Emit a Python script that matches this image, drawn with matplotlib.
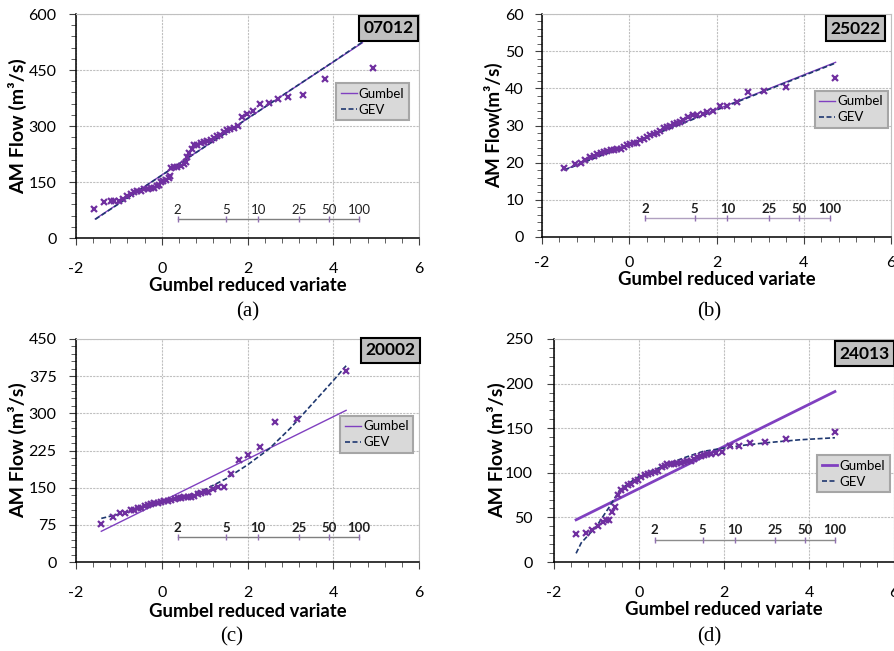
import matplotlib
matplotlib.use('Agg')
import matplotlib.pyplot as plt
from matplotlib.ticker import MultipleLocator, AutoMinorLocator

plt.rcParams['font.family'] = ['Lato', 'DejaVu Sans']
plt.rcParams['axes.unicode_minus'] = False

# ---------------- data ----------------
stations = ['07012', '25022', '20002', '24013']
captions = ['(a)', '(b)', '(c)', '(d)']
ylabels = ['AM Flow (m³/s)', 'AM Flow(m³/s)', 'AM Flow (m³/s)', 'AM Flow (m³/s)']
xlabel = 'Gumbel reduced variate'
y_max = [600, 60, 450, 250]
y_step = [150, 10, 75, 50]

return_periods = ['2', '5', '10', '25', '50', '100']
rp_x = [0.37, 1.50, 2.25, 3.20, 3.90, 4.60]
rp_level = [50, 5, 50, 25]

# (a) 07012
a_obs_x = [-1.57, -1.34, -1.19, -1.11, -0.99, -0.91, -0.80, -0.72, -0.64, -0.57,
           -0.49, -0.41, -0.33, -0.26, -0.18, -0.10, -0.06, -0.02, 0.03, 0.09,
           0.16, 0.19, 0.21, 0.29, 0.36, 0.44, 0.52, 0.56, 0.60, 0.64,
           0.70, 0.75, 0.83, 0.91, 0.98, 1.06, 1.14, 1.22, 1.29, 1.37,
           1.45, 1.53, 1.60, 1.68, 1.78, 1.88, 1.99, 2.12, 2.29, 2.49,
           2.71, 2.95, 3.29, 3.81, 4.93]
a_obs_y = [79, 97, 99, 98, 99, 104, 112, 119, 123, 126,
           127, 130, 132, 134, 134, 139, 141, 150, 153, 156,
           160, 167, 187, 189, 191, 194, 198, 204, 217, 228,
           239, 248, 250, 254, 256, 261, 263, 267, 272, 276,
           283, 289, 291, 295, 300, 323, 333, 339, 359, 362,
           372, 379, 383, 427, 456]
a_gum_x = [-1.55, 4.68]
a_gum_y = [51, 523]
a_gev_x = [-1.55, 0.0, 2.0, 4.0, 4.68]
a_gev_y = [50, 168, 320, 472, 525]

# (b) 25022
b_obs_x = [-1.49, -1.25, -1.11, -1.01, -0.89, -0.80, -0.73, -0.65, -0.57, -0.50,
           -0.42, -0.34, -0.27, -0.19, -0.11, -0.05, 0.02, 0.10, 0.18, 0.25,
           0.33, 0.40, 0.48, 0.56, 0.63, 0.71, 0.79, 0.86, 0.94, 1.02,
           1.09, 1.17, 1.24, 1.34, 1.45, 1.56, 1.68, 1.79, 1.92, 2.08,
           2.25, 2.47, 2.73, 3.08, 3.60, 4.71]
b_obs_y = [18.6, 19.6, 19.8, 20.7, 21.6, 21.9, 22.3, 22.6, 22.9, 23.1,
           23.3, 23.5, 23.6, 23.8, 24.1, 24.7, 25.0, 25.2, 25.4, 26.1,
           26.5, 27.0, 27.4, 27.7, 28.0, 28.5, 29.4, 29.6, 29.9, 30.3,
           30.6, 31.0, 31.4, 32.4, 32.7, 32.8, 33.1, 33.6, 33.9, 35.2,
           35.2, 36.2, 39.1, 39.4, 40.3, 42.9]
b_gum_x = [-1.49, 4.73]
b_gum_y = [18.1, 47.0]
b_gev_x = [-1.49, 4.73]
b_gev_y = [18.0, 46.8]

# (c) 20002
c_obs_x = [-1.41, -1.14, -0.97, -0.85, -0.72, -0.64, -0.56, -0.48, -0.40, -0.33,
           -0.25, -0.17, -0.09, -0.02, 0.06, 0.14, 0.22, 0.30, 0.37, 0.45,
           0.53, 0.61, 0.68, 0.76, 0.84, 0.92, 1.00, 1.07, 1.19, 1.32,
           1.46, 1.62, 1.80, 2.01, 2.28, 2.63, 3.16, 4.29]
c_obs_y = [77, 91, 98, 98, 104, 105, 108, 109, 112, 116,
           118, 119, 120, 122, 124, 124, 126, 128, 129, 130,
           131, 132, 132, 134, 137, 139, 142, 142, 147, 151,
           152, 177, 205, 216, 233, 283, 288, 386]
c_gum_x = [-1.41, 4.30]
c_gum_y = [62, 306]
c_gev_x = [-1.41, -0.5, 0.0, 0.5, 1.0, 1.5, 2.0, 2.5, 3.0, 3.5, 4.0, 4.3]
c_gev_y = [88, 107, 119, 131, 146, 168, 196, 228, 270, 318, 366, 396]

# (d) 24013
d_obs_x = [-1.49, -1.24, -1.10, -0.96, -0.85, -0.77, -0.71, -0.64, -0.56, -0.49,
           -0.42, -0.34, -0.26, -0.18, -0.10, -0.02, 0.05, 0.13, 0.21, 0.29,
           0.37, 0.45, 0.53, 0.60, 0.67, 0.75, 0.82, 0.90, 0.98, 1.06,
           1.14, 1.22, 1.29, 1.37, 1.45, 1.53, 1.61, 1.69, 1.80, 1.95,
           2.13, 2.35, 2.60, 2.96, 3.47, 4.61]
d_obs_y = [31.4, 32.5, 36.2, 40.0, 44.8, 47.0, 47.4, 56.0, 62.0, 75.4,
           80.2, 82.9, 85.8, 87.3, 91.0, 92.2, 94.8, 97.8, 98.5, 99.6,
           100.8, 101.5, 106.0, 107.9, 109.7, 110.1, 110.1, 110.5, 110.8, 111.6,
           112.7, 113.4, 115.7, 117.2, 119.0, 120.2, 120.9, 120.9, 122.0, 122.8,
           130.6, 130.6, 133.2, 134.0, 137.7, 145.3]
d_gum_x = [-1.48, 4.61]
d_gum_y = [47.3, 191.1]
d_gev_x = [-1.48, -1.36, -1.0, -0.69, -0.45, -0.06, 0.3, 0.72, 1.1, 1.5,
           1.98, 2.53, 3.07, 3.78, 4.61]
d_gev_y = [9.7, 21.4, 40.0, 62.4, 81.0, 94.3, 102.0, 110.8, 117.5, 123.9,
           127.6, 131.3, 134.0, 137.0, 139.3]

obs_x = [a_obs_x, b_obs_x, c_obs_x, d_obs_x]
obs_y = [a_obs_y, b_obs_y, c_obs_y, d_obs_y]
gum_x = [a_gum_x, b_gum_x, c_gum_x, d_gum_x]
gum_y = [a_gum_y, b_gum_y, c_gum_y, d_gum_y]
gev_x = [a_gev_x, b_gev_x, c_gev_x, d_gev_x]
gev_y = [a_gev_y, b_gev_y, c_gev_y, d_gev_y]

# ---------------- layout / style ----------------
W, H = 894, 651
rects_px = [(76, 14, 419, 238), (542, 14, 891, 237), (76, 339, 419, 562), (554, 339, 894, 562)]
ylab_x = [-0.17, -0.14, -0.17, -0.168]
xlab_y = [-0.214, -0.192, -0.22, -0.215]
leg_anchor = [(0.971, 0.692), (0.99, 0.656), (0.983, 0.656), (0.987, 0.48)]
box_anchor = [(0.985, 0.972), (0.97, 0.97), (0.99, 0.985), (0.988, 0.97)]
caption_px = [(248, 312), (709, 312), (232, 637), (709, 637)]
gum_lw = [1.0, 1.0, 1.0, 2.0]
rp_bold = ['normal', 'bold', 'bold', 'bold']
rp_line_col = ['#7f7f7f', '#b0a0c0', '#7f7f7f', '#8c8c8c']
xtick_pad = [12, 8.5, 12, 12]
ytick_pad = [9, 8, 9, 10]
ylab_size = [14, 13.5, 14, 14]

PURPLE = '#7030a0'
LINE_PURPLE = '#8040c0'
NAVY = '#1f3870'
GRID = '#c0c0c0'

fig = plt.figure(figsize=(W / 100, H / 100), dpi=100)

for i in range(4):
    l, t, r, b = rects_px[i]
    ax = fig.add_axes([l / W, 1 - b / H, (r - l) / W, (b - t) / H])
    ax.plot(obs_x[i], obs_y[i], ls='none', marker='x', color=PURPLE,
            ms=4.2, mew=1.6, zorder=4)
    ax.plot(gum_x[i], gum_y[i], color=LINE_PURPLE, lw=gum_lw[i], label='Gumbel', zorder=3)
    ax.plot(gev_x[i], gev_y[i], color=NAVY, ls=(0, (3, 1.5)), lw=1.2, label='GEV', zorder=3)

    lev = rp_level[i]
    ax.plot(rp_x, [lev] * len(rp_x), color=rp_line_col[i], lw=1.0, marker='|',
            ms=4, mec='#9070b0', mew=1.0, zorder=2)
    for lab, xv in zip(return_periods, rp_x):
        ax.annotate(lab, (xv, lev), xytext=(0, 2.5), textcoords='offset points',
                    ha='center', va='bottom', fontsize=9.5, fontweight=rp_bold[i],
                    color='#202020')

    ax.set_xlim(-2, 6)
    ax.set_ylim(0, y_max[i])
    ax.xaxis.set_major_locator(MultipleLocator(2))
    ax.xaxis.set_minor_locator(MultipleLocator(0.4))
    ax.yaxis.set_major_locator(MultipleLocator(y_step[i]))
    ax.yaxis.set_minor_locator(AutoMinorLocator(5))
    ax.tick_params(axis='both', which='major', direction='out', length=5,
                   width=0.8, labelsize=11.5, color='#404040')
    ax.tick_params(axis='both', which='minor', direction='out', length=3.5,
                   width=0.7, color='#606060')
    ax.tick_params(axis='x', which='major', pad=xtick_pad[i])
    ax.tick_params(axis='y', which='major', pad=ytick_pad[i])
    ax.grid(True, which='major', color=GRID, ls=(0, (2, 1)), lw=0.8, zorder=0)
    ax.set_axisbelow(True)
    for s in ['left', 'bottom']:
        ax.spines[s].set_color('black')
        ax.spines[s].set_linewidth(1.1)
    for s in ['top', 'right']:
        ax.spines[s].set_color(GRID)
        ax.spines[s].set_linewidth(0.8)

    ax.set_xlabel(xlabel, fontsize=13.3, fontweight='bold')
    ax.xaxis.set_label_coords(0.5, xlab_y[i])
    ax.xaxis.label.set_va('center')
    ax.set_ylabel(ylabels[i], fontsize=ylab_size[i], fontweight='bold')
    ax.yaxis.set_label_coords(ylab_x[i], 0.5)
    ax.yaxis.label.set_va('center')

    leg = ax.legend(loc='upper right', bbox_to_anchor=leg_anchor[i], fontsize=9.5,
                    frameon=True, fancybox=False, handlelength=1.2, handletextpad=0.15,
                    borderpad=0.35, labelspacing=0.3, borderaxespad=0)
    leg.get_frame().set_facecolor('#d9d9d9')
    leg.get_frame().set_edgecolor('#a6a6a6')
    leg.get_frame().set_linewidth(1.5)
    leg.get_frame().set_alpha(1)

    ax.text(box_anchor[i][0], box_anchor[i][1], stations[i], transform=ax.transAxes,
            ha='right', va='top', fontsize=12.5, fontweight='bold', zorder=6,
            bbox=dict(boxstyle='square,pad=0.25', facecolor='#c0c0c0',
                      edgecolor='black', linewidth=1.5))

    cx, cy = caption_px[i]
    fig.text(cx / W, 1 - cy / H, captions[i], ha='center', va='center',
             fontsize=15, family=['Liberation Serif', 'DejaVu Serif'])

fig.savefig('out.png', dpi=100)
